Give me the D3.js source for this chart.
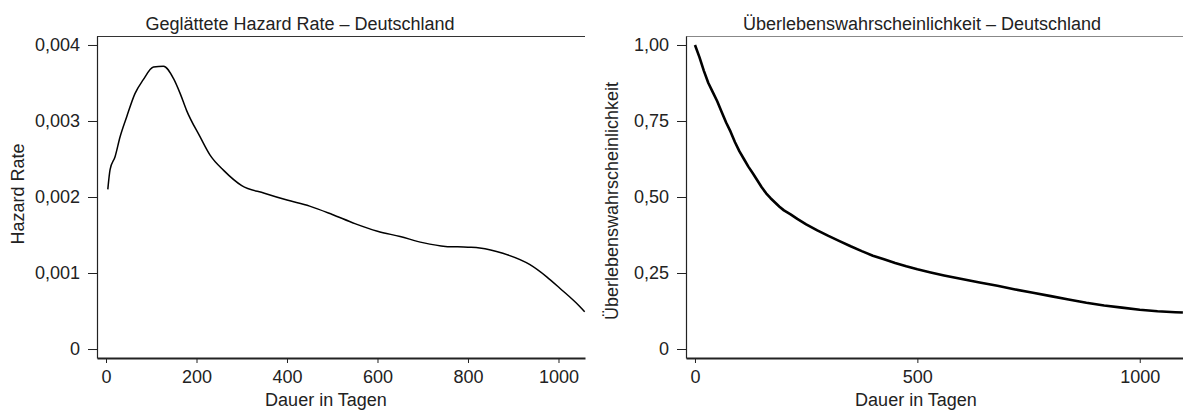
<!DOCTYPE html>
<html>
<head>
<meta charset="utf-8">
<script src="https://cdn.jsdelivr.net/npm/d3@7"></script>
<style>
  body { margin: 0; background: #fff; }
  svg { display: block; font-family: "Liberation Sans", Arial, Helvetica, sans-serif; }
  .axis path, .axis line { stroke: #222; }
  .axis text { font-size: 18px; fill: #222; font-family: "Liberation Sans", Arial, sans-serif; }
  .lbl { font-size: 18px; fill: #222; }
</style>
</head>
<body>
<svg id="chart" width="1183" height="410"></svg>
<script>
// smoothed hazard rate (days, rate)
var hazardDays = [4, 9, 20, 31, 46, 64, 82, 105, 127, 149, 164, 178, 208, 230, 260, 300, 350, 400,
                  450, 500, 550, 600, 650, 700, 750, 800, 826, 877, 937, 974, 1003, 1047, 1058];
var hazardRate = [0.00210, 0.00236, 0.00253, 0.00279, 0.00306, 0.00336, 0.00354, 0.00371, 0.00372,
                  0.00356, 0.00336, 0.00314, 0.00279, 0.00255, 0.00235, 0.00215, 0.00205, 0.00196,
                  0.00188, 0.00177, 0.00165, 0.00155, 0.00148, 0.00140, 0.00135, 0.00134, 0.00133,
                  0.00126, 0.00111, 0.00095, 0.00080, 0.00056, 0.00049];

// Kaplan-Meier survival (days, probability)
var survDays = [0, 10, 20, 30, 40, 50, 60, 70, 80, 90, 100, 110, 120, 130, 140, 150, 160, 170, 180, 190,
                200, 215, 230, 250, 275, 300, 325, 350, 375, 400, 425, 450, 475, 500, 530, 560, 600,
                640, 680, 720, 760, 800, 840, 880, 920, 960, 1000, 1040, 1080, 1097];
var survProb = [1.00, 0.96, 0.915, 0.875, 0.845, 0.815, 0.78, 0.745, 0.715, 0.68, 0.65, 0.625, 0.60,
                0.578, 0.555, 0.532, 0.512, 0.496, 0.482, 0.468, 0.456, 0.443, 0.428, 0.410, 0.390,
                0.372, 0.355, 0.338, 0.322, 0.307, 0.295, 0.283, 0.272, 0.262, 0.252, 0.242, 0.230,
                0.219, 0.208, 0.196, 0.185, 0.174, 0.163, 0.152, 0.143, 0.136, 0.129, 0.124, 0.121, 0.120];

var hazardYTicks = [0, 0.001, 0.002, 0.003, 0.004];
var hazardXTicks = [0, 200, 400, 600, 800, 1000];
var survYTicks = [0, 0.25, 0.5, 0.75, 1];
var survXTicks = [0, 500, 1000];

var svg = d3.select("#chart");
var de = d3.formatLocale({decimal: ",", thousands: ".", grouping: [3], currency: ["", " €"]});

function fmt(spec) {
  var f = de.format(spec);
  return function(d) { return d === 0 ? "0" : f(d); };
}

function panel(opt) {
  var g = svg.append("g");
  var x = d3.scaleLinear().domain(opt.xDomain).range(opt.xRange);
  var y = d3.scaleLinear().domain(opt.yDomain).range([358, 36]);

  // top border
  g.append("line")
    .attr("x1", opt.xRange[0]).attr("x2", opt.xRange[1])
    .attr("y1", 36.5).attr("y2", 36.5)
    .attr("stroke", opt.topColor).attr("stroke-width", 1);

  var gy = g.append("g").attr("class", "axis")
    .attr("transform", "translate(" + opt.xRange[0] + ",0)")
    .call(d3.axisLeft(y).tickValues(opt.yTicks).tickFormat(fmt(opt.yFmt))
      .tickSize(9).tickSizeOuter(0).tickPadding(8));
  gy.select(".domain").attr("stroke-width", 1.2);

  var gx = g.append("g").attr("class", "axis")
    .attr("transform", "translate(0,358)")
    .call(d3.axisBottom(x).tickValues(opt.xTicks).tickFormat(d3.format("d"))
      .tickSize(5).tickSizeOuter(0).tickPadding(7));
  gx.select(".domain").attr("stroke-width", 1.8);

  var line = d3.line()
    .x(function(d, i) { return x(opt.xs[i]); })
    .y(function(d) { return y(d); })
    .curve(opt.curve);

  g.append("path")
    .datum(opt.ys)
    .attr("fill", "none")
    .attr("stroke", "#000")
    .attr("stroke-width", opt.lineWidth)
    .attr("stroke-linejoin", "round")
    .attr("d", line);

  g.append("text").attr("class", "lbl")
    .attr("x", opt.titleX).attr("y", 30)
    .attr("text-anchor", "middle").text(opt.title);

  g.append("text").attr("class", "lbl")
    .attr("x", opt.xLabelX).attr("y", 406)
    .attr("text-anchor", "middle").text("Dauer in Tagen");

  g.append("text").attr("class", "lbl")
    .attr("transform", "translate(" + opt.yLabelX + "," + opt.yLabelY + ") rotate(-90)")
    .attr("text-anchor", "middle").text(opt.yLabel);
}

panel({
  xDomain: [-19.9, 1058.6], xRange: [97, 585],
  yDomain: [-0.000118, 0.004118],
  xTicks: hazardXTicks, yTicks: hazardYTicks, yFmt: ".3f",
  xs: hazardDays, ys: hazardRate, curve: d3.curveMonotoneX, lineWidth: 1.5,
  topColor: "#333",
  title: "Geglättete Hazard Rate – Deutschland", titleX: 300,
  xLabelX: 326, yLabel: "Hazard Rate", yLabelX: 24, yLabelY: 194
});

panel({
  xDomain: [-20.2, 1113], xRange: [686, 1190],
  yDomain: [-0.0296, 1.0296],
  xTicks: survXTicks, yTicks: survYTicks, yFmt: ".2f",
  xs: survDays, ys: survProb, curve: d3.curveLinear, lineWidth: 2.6,
  topColor: "#888",
  title: "Überlebenswahrscheinlichkeit – Deutschland", titleX: 922,
  xLabelX: 916, yLabel: "Überlebenswahrscheinlichkeit", yLabelX: 618, yLabelY: 201
});
</script>
</body>
</html>
